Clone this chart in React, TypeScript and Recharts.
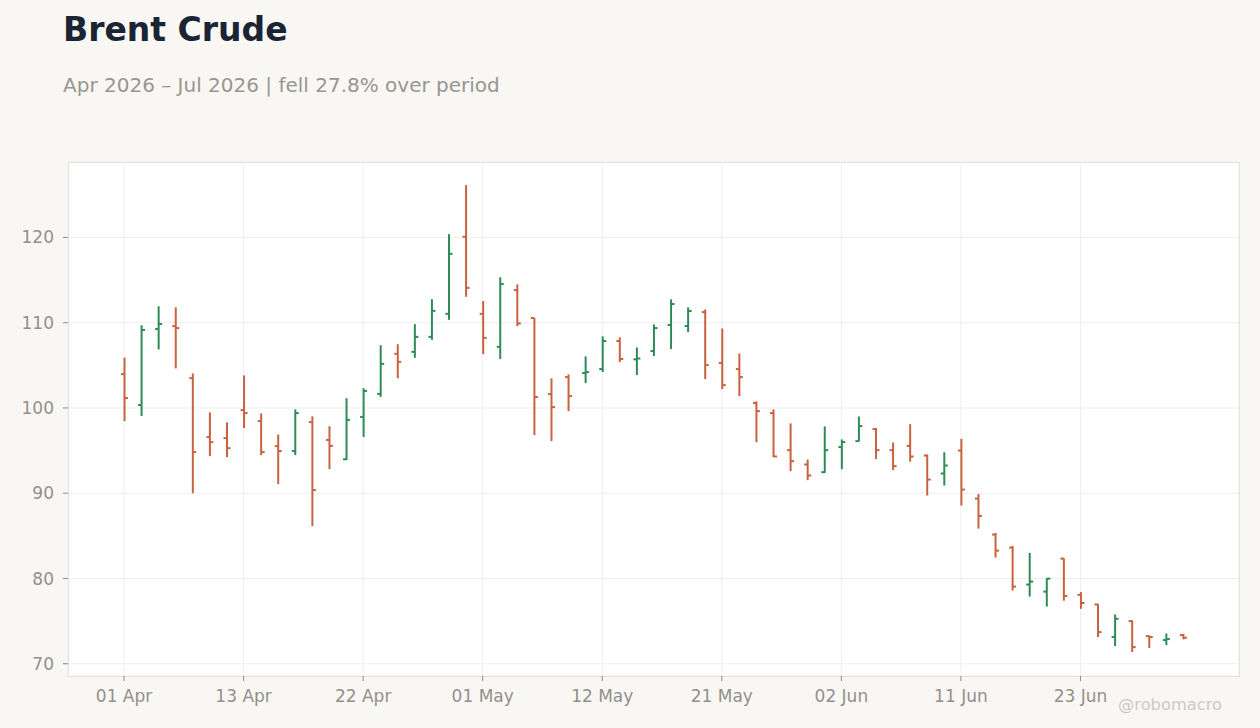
import React from "react";
import { ComposedChart, Bar, XAxis, YAxis, CartesianGrid } from "recharts";

const dates = [
  "01 Apr", "02 Apr", "06 Apr", "07 Apr", "08 Apr", "09 Apr", "10 Apr",
  "13 Apr", "14 Apr", "15 Apr", "16 Apr", "17 Apr", "20 Apr", "21 Apr",
  "22 Apr", "23 Apr", "24 Apr", "27 Apr", "28 Apr", "29 Apr", "30 Apr",
  "01 May", "04 May", "05 May", "06 May", "07 May", "08 May", "11 May",
  "12 May", "13 May", "14 May", "15 May", "18 May", "19 May", "20 May",
  "21 May", "22 May", "26 May", "27 May", "28 May", "29 May", "01 Jun",
  "02 Jun", "03 Jun", "04 Jun", "05 Jun", "08 Jun", "09 Jun", "10 Jun",
  "11 Jun", "12 Jun", "15 Jun", "16 Jun", "17 Jun", "18 Jun", "22 Jun",
  "23 Jun", "24 Jun", "25 Jun", "26 Jun", "29 Jun", "30 Jun", "01 Jul",
];

const opens = [
  103.97, 100.34, 109.26, 109.6, 103.5, 96.58, 96.46, 99.75, 98.46, 95.52,
  94.94, 98.34, 96.25, 93.98, 98.95, 101.65, 106.35, 106.58, 108.34, 111.04,
  120.08, 111.04, 107.17, 113.83, 110.55, 101.63, 103.62, 104.09, 104.56, 107.85,
  105.7, 106.67, 109.73, 109.61, 111.25, 105.27, 104.56, 100.57, 99.4, 95.05,
  93.37, 92.47, 95.41, 96.11, 97.52, 95.05, 95.55, 94.42, 92.31, 95.0,
  89.37, 85.15, 83.62, 79.28, 78.46, 82.33, 78.08, 76.95, 73.13, 75.0,
  73.24, 72.77, 73.36,
];

const highs = [
  105.9, 109.7, 111.92, 111.8, 104.05, 99.48, 98.3, 103.82, 99.36, 96.89,
  99.83, 99.02, 97.86, 101.14, 102.32, 107.36, 107.48, 109.83, 112.76, 120.39,
  126.14, 112.53, 115.33, 114.5, 110.55, 103.47, 103.94, 106.05, 108.4, 108.28,
  107.1, 109.8, 112.74, 111.8, 111.56, 109.33, 106.4, 100.77, 99.83, 98.19,
  93.96, 97.83, 96.31, 99.0, 97.64, 95.95, 98.1, 94.54, 94.81, 96.38,
  89.92, 85.34, 83.82, 83.0, 80.02, 82.37, 78.4, 77.0, 75.78, 75.08,
  73.32, 73.55, 73.48,
];

const lows = [
  98.46, 99.05, 106.87, 104.64, 90.0, 94.35, 94.23, 97.64, 94.47, 91.06,
  94.47, 86.14, 92.85, 93.9, 96.6, 101.3, 103.49, 105.88, 107.99, 110.34,
  113.04, 106.31, 105.75, 109.6, 96.82, 96.11, 99.63, 102.92, 104.21, 105.38,
  103.86, 106.09, 106.91, 108.9, 103.39, 102.21, 101.39, 95.99, 94.23, 92.59,
  91.53, 92.39, 92.82, 96.07, 94.0, 92.71, 93.7, 89.73, 90.9, 88.55,
  85.85, 82.45, 78.58, 77.87, 76.7, 77.4, 76.44, 73.13, 72.07, 71.37,
  71.84, 72.19, 72.85,
];

const closes = [
  101.16, 109.14, 109.84, 109.37, 94.82, 95.99, 95.29, 99.4, 94.82, 94.94,
  99.4, 90.37, 95.55, 98.6, 102.0, 105.17, 105.41, 108.34, 111.39, 118.08,
  114.09, 108.22, 114.55, 109.92, 101.28, 100.1, 101.39, 104.21, 107.85, 105.74,
  105.8, 109.37, 112.19, 111.37, 105.03, 102.68, 103.62, 99.63, 94.31, 93.76,
  92.08, 95.05, 96.0, 97.87, 95.05, 93.18, 94.3, 91.6, 93.25, 90.43,
  87.34, 83.27, 79.05, 79.63, 79.98, 77.95, 77.12, 73.71, 75.27, 71.95,
  73.13, 72.89, 73.05,
];

const yTicks = [70, 80, 90, 100, 110, 120];
const yDomain = [68.56, 128.85];

const TITLE = "Brent Crude";
const SUBTITLE = "Apr 2026 \u2013 Jul 2026 | fell 27.8% over period";
const WATERMARK = "@robomacro";

const UP = "#2e8b57";
const DOWN = "#c9623f";
const FONT = "'DejaVu Sans', sans-serif";

const data = dates.map((d, i) => ({
  date: d,
  open: opens[i],
  high: highs[i],
  low: lows[i],
  close: closes[i],
  range: [lows[i], highs[i]],
}));

const OhlcShape = (props: any) => {
  const { x, y, width, height, payload } = props;
  if (!payload) return null;
  const cx = x + width / 2;
  const top = Math.min(y, y + height);
  const bot = Math.max(y, y + height);
  const span = payload.high - payload.low;
  const py = (v: number) =>
    span === 0 ? top : top + ((payload.high - v) / span) * (bot - top);
  const color = payload.close >= payload.open ? UP : DOWN;
  const oy = py(payload.open);
  const cy = py(payload.close);
  return (
    <g stroke={color} strokeWidth={2} fill="none">
      <line x1={cx} x2={cx} y1={top} y2={bot} />
      <line x1={cx - 3.5} x2={cx} y1={oy} y2={oy} />
      <line x1={cx} x2={cx + 3.5} y1={cy} y2={cy} />
    </g>
  );
};

export default function App() {
  return (
    <div
      style={{
        position: "absolute",
        left: 0,
        top: 0,
        width: 1260,
        height: 728,
        background: "#f8f7f4",
        overflow: "hidden",
      }}
    >
      <div
        style={{
          position: "absolute",
          left: 68,
          top: 162,
          width: 1172,
          height: 515,
          boxSizing: "border-box",
          background: "#ffffff",
          border: "1px solid #ddd7cf",
        }}
      />
      <svg
        width={1260}
        height={728}
        style={{ position: "absolute", left: 0, top: 0 }}
      >
        <text
          x={63}
          y={41}
          fontFamily={FONT}
          fontWeight="bold"
          fontSize={33}
          fill="#1b2433"
        >
          {TITLE}
        </text>
        <text x={63} y={92} fontFamily={FONT} fontSize={20} fill="#9a958f">
          {SUBTITLE}
        </text>
        <text
          x={1222}
          y={710}
          textAnchor="end"
          fontFamily={FONT}
          fontSize={16.3}
          fill="#cdcac5"
        >
          {WATERMARK}
        </text>
      </svg>
      <div style={{ position: "absolute", left: 0, top: 0 }}>
        <ComposedChart
          width={1260}
          height={728}
          data={data}
          margin={{ top: 162, right: 21, bottom: 22, left: 0 }}
        >
          <CartesianGrid stroke="#eeeeee" strokeWidth={1} />
          <XAxis
            dataKey="date"
            interval={6}
            padding={{ left: 47.5, right: 47.5 }}
            axisLine={false}
            tickLine={{ stroke: "#8f8a85" }}
            tickSize={5}
            tickMargin={9}
            height={30}
            tick={{ fill: "#948f8a", fontSize: 17, fontFamily: FONT }}
          />
          <YAxis
            type="number"
            domain={yDomain}
            ticks={yTicks}
            width={68}
            axisLine={false}
            tickLine={{ stroke: "#8f8a85" }}
            tickSize={5}
            tickMargin={9}
            tick={{ fill: "#948f8a", fontSize: 17, fontFamily: FONT }}
          />
          <Bar
            dataKey="range"
            shape={<OhlcShape />}
            barSize={8}
            isAnimationActive={false}
          />
        </ComposedChart>
      </div>
    </div>
  );
}
